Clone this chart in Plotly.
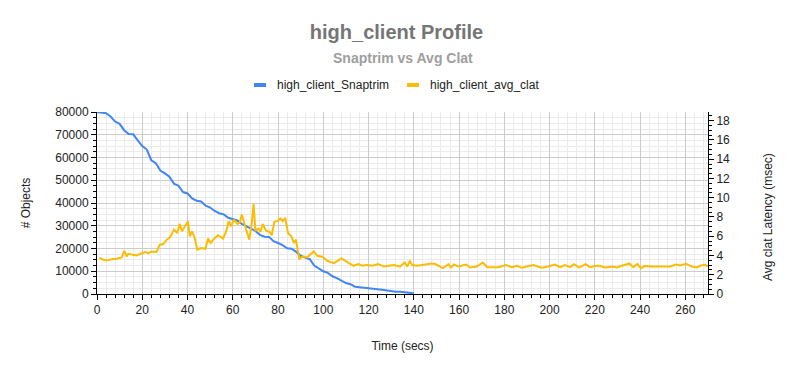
import plotly.graph_objects as go

# ---- data ----
snap_time = list(range(0, 142, 2))
snap_objects = [80000, 79800, 79500, 78000, 75800, 74800, 72000, 70300, 70200, 67500,
                65000, 63500, 58800, 57500, 54300, 53000, 51600, 48500, 47600, 44800,
                44200, 42000, 41000, 40700, 38800, 38000, 36500, 35500, 35000, 33500,
                32800, 32300, 30800, 29700, 28700, 27700, 26000, 25200, 25100, 23200,
                22400, 21500, 20100, 19900, 18500, 16800, 16000, 15300, 12500, 11400,
                10000, 9300, 7800, 7000, 5800, 4800, 4300, 3200, 3000, 2700,
                2500, 2400, 2100, 1900, 1500, 1200, 1000, 950, 800, 700, 300]

clat_time = [1, 2.8, 4.3, 6.5, 8.7, 10.9, 12.1, 13.1, 13.8, 15.3, 17.5, 19, 21.2, 22.7, 24.1,
             26.3, 27.8, 29.3, 30.8, 32.3, 34, 35.5, 36.5, 37.6, 40.2, 41, 42, 43.2, 44.3,
             46.1, 47.9, 49.1, 50.3, 51.7, 53.5, 55.7, 57.2, 58.2, 59.3, 60.5, 62, 63, 64,
             64.6, 65.8, 67.3, 68.4, 69.2, 70, 71.3, 72.2, 73.2, 74.7, 76.2, 77.2, 78.4,
             79.8, 81, 82.1, 83.2, 84.4, 85.9, 87, 87.9, 89.4, 90.9, 92.8, 94.3, 95.8,
             97.3, 99.6, 101.8, 104.7, 108, 110.6, 113.3, 115.5, 117.3, 119.5, 121.7,
             124.3, 126.8, 131.2, 133.9, 136, 137.1, 138.3, 139.3, 141.5, 144.2, 147.2,
             149.4, 152.8, 155.3, 156.3, 157.8, 159.7, 163.1, 164.9, 167.8, 170.5, 172.5,
             177.4, 180.8, 183.3, 185.5, 187.7, 192.8, 196.5, 199.4, 202.4, 204.6, 206.8,
             209, 210.8, 213, 215.9, 217.9, 221.5, 224.5, 227.9, 229.6, 232.3, 235.2, 237,
             238.8, 240.3, 242.2, 244.4, 248.8, 253.3, 255.9, 257.7, 260.3, 262.8, 265,
             266.8, 268.7, 270]
clat_msec = [3.75, 3.55, 3.48, 3.62, 3.66, 3.8, 4.49, 3.9, 4.18, 4.08, 4.0, 4.15, 4.35, 4.25, 4.42,
             4.36, 5.12, 5.19, 5.64, 5.88, 6.69, 6.34, 7.28, 6.51, 7.55, 5.99, 6.51, 5.82, 4.6,
             4.78, 4.7, 5.75, 5.3, 5.75, 6.1, 5.75, 6.58, 7.56, 7.03, 7.73, 7.28, 7.38, 8.25,
             7.73, 6.87, 5.64, 7.38, 9.37, 6.58, 6.79, 6.45, 7.28, 6.58, 6.45, 6.1, 7.49,
             7.56, 7.84, 7.56, 7.91, 6.34, 5.99, 5.3, 5.64, 3.66, 3.9, 3.8, 4.08, 4.42,
             3.97, 3.87, 3.45, 3.2, 3.69, 3.34, 2.93, 3.1, 2.93, 3.0, 2.93,
             3.1, 2.85, 3.0, 2.85, 3.27, 2.85, 3.45, 3.0, 2.93, 3.03, 3.13,
             3.13, 2.68, 3.1, 2.75, 3.06, 2.85, 3.06, 2.75, 2.85, 3.27, 2.79,
             2.79, 3.0, 2.79, 2.93, 2.72, 3.0, 2.72, 2.85, 3.06, 2.79, 3.0,
             2.79, 3.1, 2.75, 3.1, 2.79, 2.96, 2.75, 2.85, 2.75, 2.93, 3.17, 2.79,
             3.13, 2.68, 2.93, 2.85, 2.85, 2.85, 3.06, 2.96, 3.13, 2.85, 2.75,
             2.96, 3.03, 2.85]

series_names = ["high_client_Snaptrim", "high_client_avg_clat"]

SANS = "Liberation Sans, Arial, sans-serif"
BLUE = "#4285F4"
YELLOW = "#FBBC04"

# plot area in pixels (for placing paper-referenced decorations)
L, R, T, B = 97, 708, 112, 294
W, H = R - L, B - T


def px(xp):
    return (xp - L) / W


def py(yp):
    return (B - yp) / H


fig = go.Figure()
fig.add_trace(go.Scatter(x=snap_time, y=snap_objects, name=series_names[0],
                         mode="lines", line=dict(color=BLUE, width=2), showlegend=False))
fig.add_trace(go.Scatter(x=clat_time, y=clat_msec, name=series_names[1],
                         mode="lines", line=dict(color=YELLOW, width=2), yaxis="y2",
                         showlegend=False))

axis_font = dict(family=SANS, size=12, color="#222222")

# compact legend like the reference (short thick swatch + label)
legend_shapes = []
legend_annots = []
for i, (name, col) in enumerate(zip(series_names, [BLUE, YELLOW])):
    sx0 = [254, 407][i]
    legend_shapes.append(dict(type="line", xref="paper", yref="paper",
                              x0=px(sx0), x1=px(sx0 + 12), y0=py(85), y1=py(85),
                              line=dict(color=col, width=4)))
    legend_annots.append(dict(text=name, xref="paper", yref="paper",
                              x=px(sx0 + 21), y=py(85), xanchor="left", yanchor="middle",
                              showarrow=False, font=dict(family=SANS, size=12, color="#222222")))

inner_ticks = dict(ticks="inside", ticklen=4, tickcolor="black", showticklabels=False,
                   showgrid=False, showline=False, zeroline=False, automargin=False)

fig.update_layout(
    width=793, height=371, autosize=False,
    margin=dict(l=L, r=793 - R, t=T, b=371 - B),
    paper_bgcolor="white", plot_bgcolor="white",
    showlegend=False,
    title=dict(text="<b>high_client Profile</b>", x=0.5, xanchor="center",
               y=1 - 32 / 371, yanchor="middle",
               font=dict(family=SANS, size=20, color="#757575")),
    xaxis=dict(range=[0, 270], dtick=20, tick0=0, automargin=False,
               showgrid=True, gridcolor="#cccccc", gridwidth=1,
               showline=True, linecolor="black", linewidth=1, zeroline=False,
               ticks="outside", ticklen=5, tickcolor="black",
               tickfont=axis_font,
               minor=dict(dtick=4, showgrid=True, gridcolor="#ebebeb",
                          ticks="outside", ticklen=3, tickcolor="black"),
               title=dict(text="Time (secs)", font=axis_font, standoff=25)),
    yaxis=dict(range=[0, 80000], dtick=10000, tick0=0, automargin=False,
               showgrid=True, gridcolor="#cccccc", gridwidth=1,
               showline=True, linecolor="black", linewidth=1, zeroline=False,
               ticks="outside", ticklen=5, tickcolor="black",
               tickfont=axis_font, tickformat="d",
               minor=dict(dtick=2500, showgrid=True, gridcolor="#ebebeb",
                          ticks="outside", ticklen=3, tickcolor="black"),
               title=dict(text="# Objects", font=axis_font, standoff=22)),
    yaxis2=dict(range=[0, 18.9], dtick=2, tick0=0, overlaying="y", side="right",
                automargin=False, showgrid=False, zeroline=False,
                showline=True, linecolor="black", linewidth=1,
                ticks="outside", ticklen=5, tickcolor="black",
                tickfont=axis_font,
                minor=dict(dtick=0.5, ticks="outside", ticklen=3, tickcolor="black")),
    # companion axes drawing the inner half of the crossing tick marks
    xaxis3=dict(inner_ticks, overlaying="x", matches="x", anchor="y", side="bottom",
                dtick=20, tick0=0,
                minor=dict(dtick=4, ticks="inside", ticklen=3, tickcolor="black")),
    yaxis3=dict(inner_ticks, overlaying="y", matches="y", anchor="x", side="left",
                dtick=10000, tick0=0,
                minor=dict(dtick=2500, ticks="inside", ticklen=3, tickcolor="black")),
    yaxis4=dict(inner_ticks, overlaying="y", matches="y2", anchor="x", side="right",
                dtick=2, tick0=0,
                minor=dict(dtick=0.5, ticks="inside", ticklen=3, tickcolor="black")),
    shapes=legend_shapes,
    annotations=[
        dict(text="<b>Snaptrim vs Avg Clat</b>", xref="paper", yref="paper",
             x=0.5, y=py(58), xanchor="center", yanchor="middle",
             showarrow=False, font=dict(family=SANS, size=14, color="#9e9e9e")),
        dict(text="Avg clat Latency (msec)", xref="paper", yref="paper",
             x=px(768), y=py(217), xanchor="center", yanchor="middle",
             textangle=-90, showarrow=False, font=axis_font),
    ] + legend_annots,
)

fig.write_html("out.html", config={"displayModeBar": False},
               post_script="document.body.style.margin='0px';")
